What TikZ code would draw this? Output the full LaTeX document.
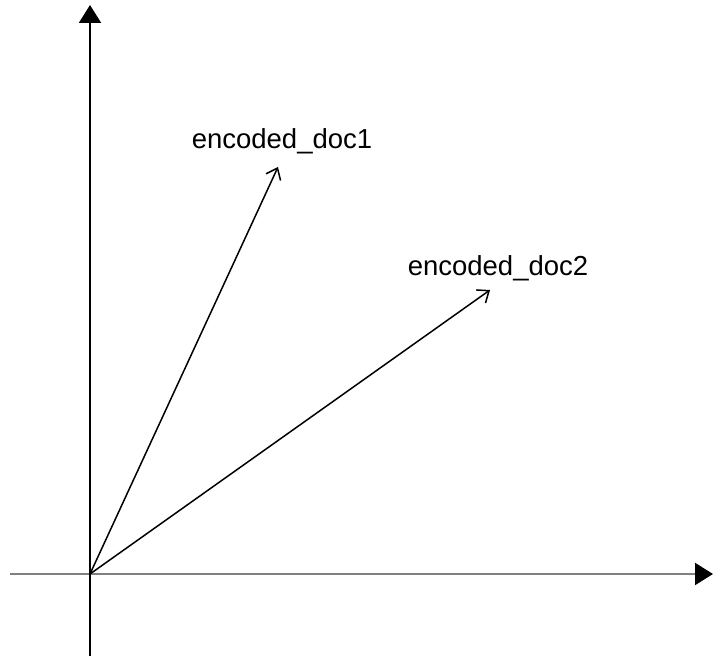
\documentclass[tikz,border=0pt]{standalone}
\usepackage{fontspec}
\setmainfont{Liberation Sans}
\usetikzlibrary{arrows.meta,calc}

\begin{document}
\begin{tikzpicture}[x=1pt,y=1pt]
\useasboundingbox (0,0) rectangle (720,661);
\coordinate (O) at (90,87);
\coordinate (xl) at (10,87);
\coordinate (xr) at (713,87);
\coordinate (yb) at (90,5);
\coordinate (yt) at (90,656);
\coordinate (d1) at (278,494);
\coordinate (d2) at (490,371);

\draw[line width=2pt, gray, -{Triangle[length=18pt,width=22pt,color=black]}] (xl) -- (xr);
\draw[line width=2pt, -{Triangle[length=18pt,width=22pt]}] (yb) -- (yt);

\draw[line width=1.5pt, -{Straight Barb[length=10pt,width=16pt]}] (O) -- (d1);
\draw[line width=1.5pt, -{Straight Barb[length=10pt,width=16pt]}] (O) -- (d2);

\draw (282,520) node[font=\fontsize{27.5}{32}\selectfont](lab1) {encoded\_doc1};
\draw (498,393) node[font=\fontsize{27.5}{32}\selectfont](lab2) {encoded\_doc2};
\end{tikzpicture}
\end{document}
